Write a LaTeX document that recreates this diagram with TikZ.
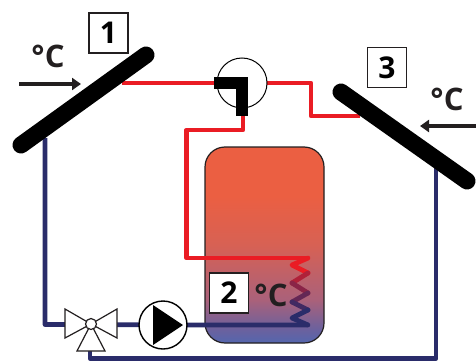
\documentclass[tikz,border=0pt]{standalone}
\usepackage{fontspec}
\setmainfont{Open Sans}
\usetikzlibrary{arrows.meta}
\definecolor{pipered}{RGB}{234,28,36}
\definecolor{pipeblue}{RGB}{42,44,106}
\definecolor{inkblack}{RGB}{35,31,32}
\definecolor{tka}{RGB}{84,102,174}
\definecolor{tkb}{RGB}{107,97,158}
\definecolor{tkc}{RGB}{170,97,122}
\definecolor{tkd}{RGB}{215,97,84}
\definecolor{tke}{RGB}{235,95,66}
\pgfdeclareverticalshading{tankshade}{100bp}{
 color(0bp)=(tka);
 color(25bp)=(tka);
 color(28.5bp)=(tkb);
 color(36bp)=(tkc);
 color(50bp)=(tkd);
 color(62.5bp)=(tke);
 color(100bp)=(tke)}
\tikzset{
 redpipe/.style={draw=pipered,line width=4.8pt,line join=round},
 bluepipe/.style={draw=pipeblue,line width=4.8pt,line join=round},
 panel/.style={draw=black,line width=17pt,line cap=round},
 numbox/.style={draw=inkblack,line width=1.4pt,fill=white,minimum width=39pt,minimum height=40pt,inner sep=0pt,font=\fontsize{30}{30}\selectfont\bfseries},
 deg/.style={inner sep=0pt,text=inkblack,font=\fontsize{31}{31}\selectfont\bfseries},
 heatarrow/.style={draw=inkblack,line width=3.6pt,-{Triangle[length=9pt,width=12pt]}},
 symbol/.style={draw=inkblack,line width=1.2pt,fill=white,line join=miter},
 coilseg/.style={line width=4.8pt,line cap=round,line join=round}
}
\begin{document}
\begin{tikzpicture}[x=1pt,y=-1pt]
\useasboundingbox (0,0) rectangle (476,361);
% anchor points
\coordinate (p1a) at (21,145);
\coordinate (p1b) at (146,55);
\coordinate (p3a) at (341,92);
\coordinate (p3b) at (467,181);
\coordinate (p1out) at (122,83);
\coordinate (p1ret) at (45,138);
\coordinate (p3out) at (360,116);
\coordinate (p3k) at (311,116);
\coordinate (p3j) at (311,83);
\coordinate (p3ret) at (436,166);
\coordinate (vbot) at (90,351);
\coordinate (vb1) at (90,358.5);
\coordinate (vb2) at (436,358.5);
\coordinate (k1) at (45,324.5);
\coordinate (pumpout) at (243,112);
\coordinate (r1) at (243,130);
\coordinate (r2) at (186.5,130);
\coordinate (r3) at (186.5,258);
\coordinate (c0) at (308,258);
\coordinate (c1) at (292,265);
\coordinate (c2) at (308,273);
\coordinate (c3) at (292,283);
\coordinate (c4) at (308,293);
\coordinate (c5) at (292,302);
\coordinate (c6) at (308,310);
\coordinate (c7) at (292,318);
\coordinate (c8) at (308,325);
% tank
\path[shading=tankshade,draw=inkblack,line width=1.2pt,rounded corners=20pt] (205,147) rectangle (324,343);
% nodes for the round parts
\node[circle,minimum size=49pt,inner sep=0pt] (mix) at (242,83) {};
\node[circle,minimum size=48pt,inner sep=0pt] (pump) at (163,325) {};
\coordinate (v) at (91,324.5);
% pipes
\draw[redpipe] (p1out) -- (mix.center);
\draw[redpipe] (mix.center) -- (p3j) -- (p3k) -- (p3out);
\draw[redpipe] (pumpout) -- (r1) -- (r2) -- (r3) -- (c0);
\draw[bluepipe] (p1ret) -- (k1) -- (v) -- (pump.center) -- (c8);
\draw[bluepipe] (vbot) -- (vb1) -- (vb2) -- (p3ret);
% coil
\draw[coilseg,pipered] (c0) -- (c1) -- (c2);
\draw[coilseg,pipered!70!pipeblue] (c2) -- (c3);
\draw[coilseg,pipered!50!pipeblue] (c3) -- (c4);
\draw[coilseg,pipered!30!pipeblue] (c4) -- (c5);
\draw[coilseg,pipered!12!pipeblue] (c5) -- (c6);
\draw[coilseg,pipeblue] (c6) -- (c7) -- (c8);
% pump and mixer bodies
\node[circle,draw=black,line width=1.4pt,minimum size=48pt,inner sep=0pt,fill=white] at (pump) {};
\fill[black] (153,305) -- (183,325) -- (153,345) -- cycle;
\node[circle,draw=black,line width=1pt,minimum size=50pt,inner sep=0pt,fill=white] at (mix) {};
\fill[black] (214,77) rectangle (248,89);
\fill[black] (236,77) rectangle (248,116);
% three-way valve
\draw[symbol] (65,309) -- (91,324) -- (65,338) -- cycle;
\draw[symbol] (117,309) -- (91,324) -- (117,338) -- cycle;
\draw[symbol] (91,324) -- (77,351) -- (105,351) -- cycle;
\node[circle,symbol,minimum size=11pt,inner sep=0pt] (valve) at (91,324) {};
% panels
\draw[panel] (p1a) -- (p1b);
\draw[panel] (p3a) -- (p3b);
% labels
\node[numbox] (n1) at (108.5,33) {1};
\node[numbox] (n3) at (387,67.5) {3};
\node[numbox] (n2) at (229,293) {2};
\node[deg] (t1) at (48,56) {°C};
\node[deg] (t3) at (447,99) {°C};
\node[deg] (t2) at (271,295) {°C};
% heat arrows
\coordinate (a1s) at (19,84);
\coordinate (a1e) at (81,84);
\coordinate (a3s) at (476,126);
\coordinate (a3e) at (420,126);
\draw[heatarrow] (a1s) -- (a1e);
\draw[heatarrow] (a3s) -- (a3e);
\end{tikzpicture}
\end{document}
